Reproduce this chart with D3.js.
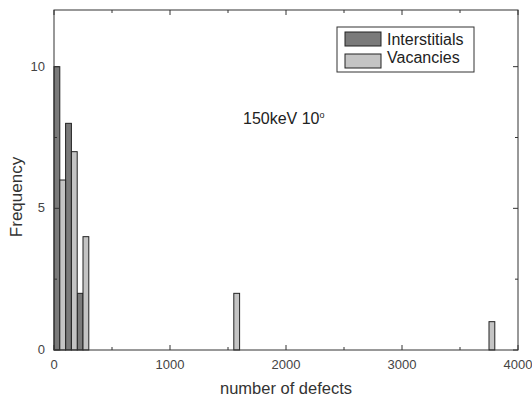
<!DOCTYPE html>
<html>
<head>
<meta charset="utf-8">
<script src="https://cdn.jsdelivr.net/npm/d3@7"></script>
<style>
  body { margin: 0; background: #fff; }
  svg { display: block; font-family: 'Liberation Sans', Arial, sans-serif; }
  .tick-label { fill: #444; font-size: 13px; }
</style>
</head>
<body>
<svg id="chart" width="532" height="404"></svg>
<script>
'use strict';

// histogram bins (lower edge, width 100 defects)
const binStarts = [0, 100, 200, 1500, 3700];
const interstitials = [10, 8, 2, 0, 0];
const vacancies = [6, 7, 4, 2, 1];
const binWidth = 100;
const xTicks = [0, 1000, 2000, 3000, 4000];
const yTicks = [0, 5, 10];
const seriesNames = ['Interstitials', 'Vacancies'];
const seriesColors = ['#7a7a7a', '#c4c4c4'];

const margin = { top: 10, right: 14, bottom: 54, left: 54 };
const width = 532 - margin.left - margin.right;
const height = 404 - margin.top - margin.bottom;

const svg = d3.select('#chart');
const g = svg.append('g')
  .attr('transform', 'translate(' + margin.left + ',' + margin.top + ')');

const x = d3.scaleLinear().domain([0, 4000]).range([0, width]);
const y = d3.scaleLinear().domain([0, 12]).range([height, 0]);

// bars: interstitials in the left half of a bin, vacancies in the right half
const series = [interstitials, vacancies];
series.forEach(function(values, s) {
  g.selectAll('.bar-' + s)
    .data(binStarts.map(function(b, i) { return { x0: b, v: values[i] }; })
      .filter(function(d) { return d.v > 0; }))
    .enter()
    .append('rect')
    .attr('class', 'bar-' + s)
    .attr('x', function(d) { return x(d.x0 + s * binWidth / 2); })
    .attr('width', x(binWidth / 2) - x(0))
    .attr('y', function(d) { return y(d.v); })
    .attr('height', function(d) { return y(0) - y(d.v); })
    .attr('fill', seriesColors[s])
    .attr('stroke', '#222')
    .attr('stroke-width', 1);
});

// frame
g.append('rect')
  .attr('width', width)
  .attr('height', height)
  .attr('fill', 'none')
  .attr('stroke', '#333')
  .attr('stroke-width', 1);

// inward ticks on all four sides
const xMinor = d3.range(500, 4000, 1000);
const yMinor = [2.5, 7.5];
function tickLines(cls, data, isX, len) {
  [0, 1].forEach(function(side) {
    g.selectAll('.' + cls + side)
      .data(data)
      .enter()
      .append('line')
      .attr('x1', function(d) { return isX ? x(d) : (side ? width : 0); })
      .attr('x2', function(d) { return isX ? x(d) : (side ? width - len : len); })
      .attr('y1', function(d) { return isX ? (side ? 0 : height) : y(d); })
      .attr('y2', function(d) { return isX ? (side ? len : height - len) : y(d); })
      .attr('stroke', '#333');
  });
}
tickLines('xt', xTicks, true, 5);
tickLines('xm', xMinor, true, 3);
tickLines('yt', yTicks, false, 5);
tickLines('ym', yMinor, false, 3);

g.selectAll('.xl')
  .data(xTicks)
  .enter()
  .append('text')
  .attr('class', 'tick-label')
  .attr('x', function(d) { return x(d); })
  .attr('y', height + 19)
  .attr('text-anchor', 'middle')
  .text(function(d) { return d; });

g.selectAll('.yl')
  .data(yTicks)
  .enter()
  .append('text')
  .attr('class', 'tick-label')
  .attr('x', -9)
  .attr('y', function(d) { return y(d) + 4; })
  .attr('text-anchor', 'end')
  .text(function(d) { return d; });

// axis titles
svg.append('text')
  .attr('x', margin.left + x(2000))
  .attr('y', 394)
  .attr('text-anchor', 'middle')
  .attr('font-size', 16.5)
  .attr('fill', '#333')
  .text('number of defects');

svg.append('text')
  .attr('transform', 'translate(22,' + (margin.top + y(5.4)) + ') rotate(-90)')
  .attr('text-anchor', 'middle')
  .attr('font-size', 17)
  .attr('fill', '#333')
  .text('Frequency');

// annotation
const note = svg.append('text')
  .attr('x', 243)
  .attr('y', 124)
  .attr('font-size', 16)
  .attr('fill', '#222');
note.append('tspan').text('150keV 10');
note.append('tspan').attr('dy', -6).attr('font-size', 9).text('o');

// legend
const legend = svg.append('g').attr('transform', 'translate(337,27)');
legend.append('rect')
  .attr('width', 137)
  .attr('height', 45)
  .attr('fill', '#fff')
  .attr('stroke', '#333');
seriesNames.forEach(function(name, i) {
  legend.append('rect')
    .attr('x', 8)
    .attr('y', 5 + i * 22)
    .attr('width', 36)
    .attr('height', 14)
    .attr('fill', seriesColors[i])
    .attr('stroke', '#222');
  legend.append('text')
    .attr('x', 50)
    .attr('y', 18 + i * 18)
    .attr('font-size', 16)
    .attr('fill', '#222')
    .text(name);
});
</script>
</body>
</html>
